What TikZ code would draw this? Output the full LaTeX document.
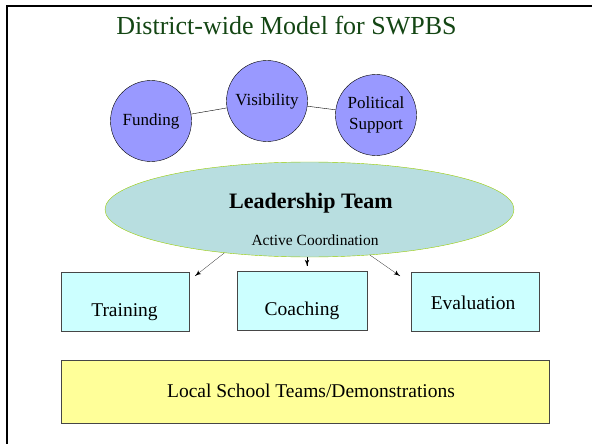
\documentclass[tikz,border=0pt]{standalone}
\usepackage{fontspec}
\setmainfont{Liberation Serif}
\usetikzlibrary{arrows}
\usetikzlibrary{decorations.markings}
\usetikzlibrary{shapes.geometric}
\usetikzlibrary{positioning}
\definecolor{mgreen}{RGB}{20,70,20}
\definecolor{mpurple}{RGB}{153,153,255}
\definecolor{mteal}{RGB}{184,222,224}
\definecolor{mlime}{RGB}{153,204,0}
\definecolor{mcyan}{RGB}{204,255,255}
\definecolor{myellow}{RGB}{255,255,153}
\definecolor{mgrey}{RGB}{70,70,70}
\tikzset{tipped/.style = {very thin, decoration={markings,
                                  mark=at position 1 with {\arrow[scale=1.8]{latex'}}},
                      postaction={decorate}}}
\tikzset{bubble/.style = {circle, draw, fill=mpurple, minimum size=81pt, inner sep=0pt,
                          align=center, font=\fontsize{17}{21}\selectfont}}
\tikzset{pane/.style = {draw=mgrey, fill=mcyan, minimum width=128pt, minimum height=59pt}}
\tikzset{label/.style = {anchor=base, inner sep=0pt, font=\fontsize{19.5}{23}\selectfont}}

\begin{document}
\begin{tikzpicture}[x=1pt, y=-1pt]
    \useasboundingbox (0, 0) rectangle (592, 444);
    \draw [line width=2pt] (7, 444) -- (7, 6) -- (592, 6);

    \node [label, text=mgreen, font=\fontsize{26}{30}\selectfont] (title) at (286.5, 34.5) {District-wide Model for SWPBS};

    \node [bubble] (fund) at (151, 121) {Funding};
    \node [bubble] (vis) at (267, 101) {Visibility};
    \node [bubble] (pol) at (376, 115) {Political\\Support};
    \draw (fund) -- (vis);
    \draw (vis) -- (pol);

    \node [ellipse, draw=mlime, fill=mteal, minimum width=409pt, minimum height=95pt] (lead) at (309.5, 209.5) {};
    \node [label, font=\bfseries\fontsize{22}{26}\selectfont] (leadtxt) at (311, 208) {Leadership Team};
    \node [label, font=\fontsize{15.5}{18}\selectfont] (coord) at (315, 245.5) {Active Coordination};

    \node [pane] (train) at (125, 301.5) {};
    \node [pane, minimum width=130pt] (coach) at (302, 300.5) {};
    \node [pane] (eval) at (475, 301.5) {};
    \node [label] (traintxt) at (124.5, 316.5) {Training};
    \node [label] (coachtxt) at (302, 315) {Coaching};
    \node [label] (evaltxt) at (473, 309.5) {Evaluation};

    \coordinate (tip1) at (195, 276);
    \coordinate (tip2) at (307, 266);
    \coordinate (tip3) at (400, 276);
    \draw [tipped] (lead.207) -- (tip1);
    \draw [tipped] (lead.south -| tip2) -- (tip2);
    \draw [tipped] (lead.323) -- (tip3);

    \node [draw=mgrey, fill=myellow, minimum width=488pt, minimum height=63pt] (local) at (305, 391.5) {};
    \node [label] (localtxt) at (311, 397.5) {Local School Teams/Demonstrations};
\end{tikzpicture}
\end{document}
